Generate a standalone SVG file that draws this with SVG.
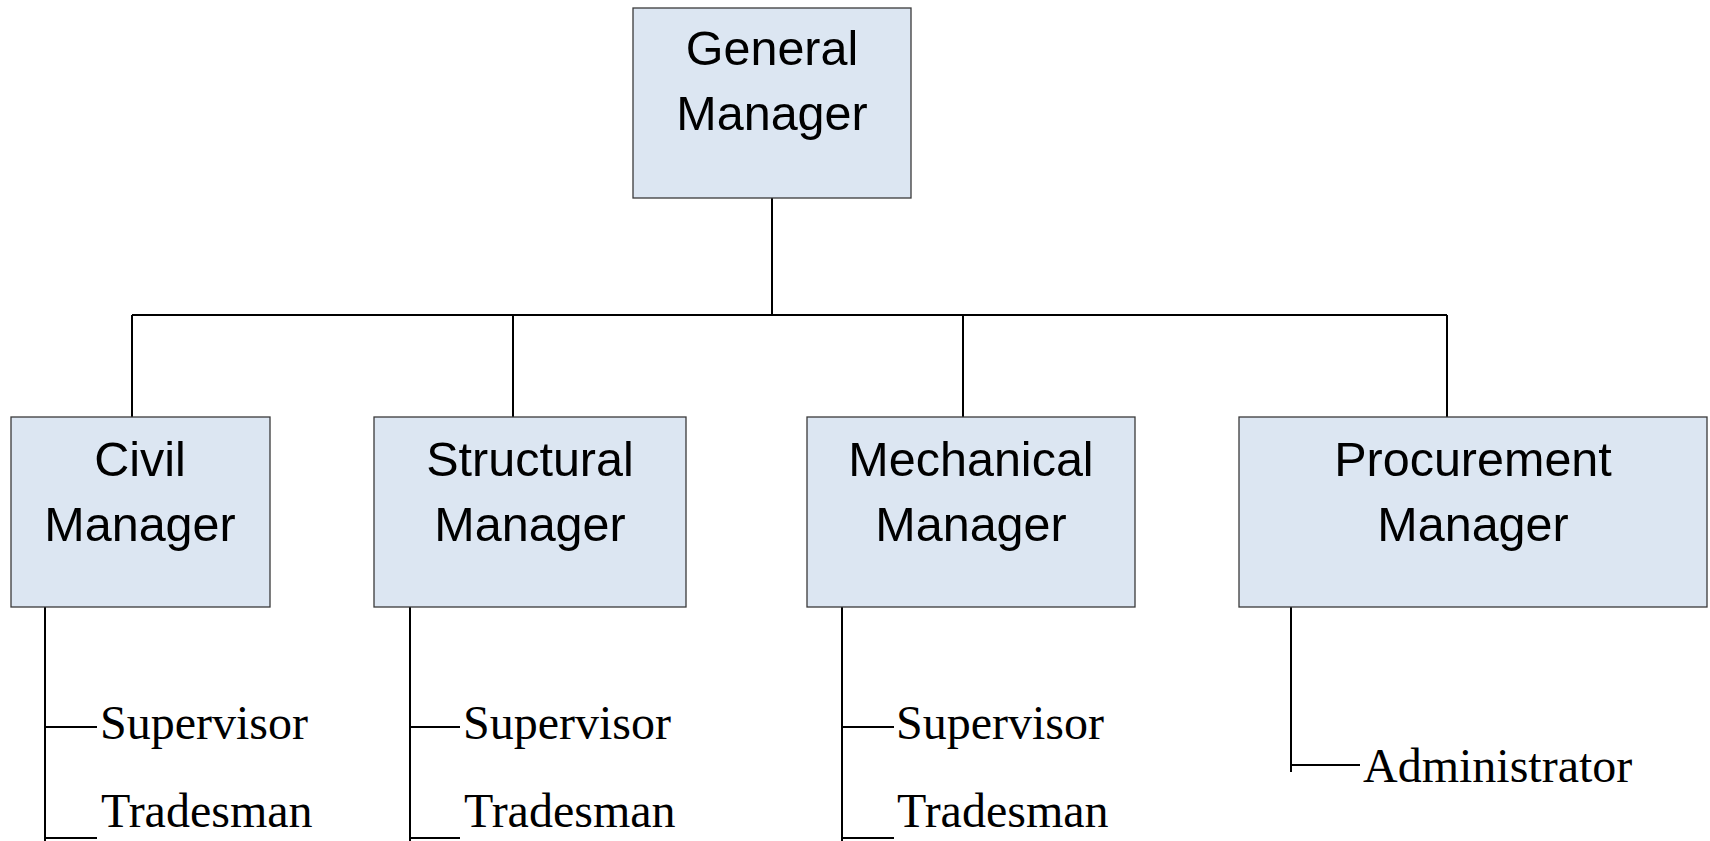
<svg xmlns="http://www.w3.org/2000/svg" width="1710" height="841" viewBox="0 0 1710 841">
<style>
.box{fill:#dce6f2;stroke:#3a3a3a;stroke-width:1.3}
.bt{font-family:"Liberation Sans",Arial,sans-serif;font-size:48.5px;fill:#000;text-anchor:middle}
.st{font-family:"Liberation Serif","Times New Roman",serif;font-size:48px;fill:#000}
.ln{stroke:#000;stroke-width:2;fill:none}
</style>
<rect width="1710" height="841" fill="#fff"/>
<g id="connectors">
<path class="ln" d="M772 198V315M132 315H1447M132 315V417M513 315V417M963 315V417M1447 315V417"/>
<path class="ln" d="M45 602V841M45 727H97M45 838H97"/>
<path class="ln" d="M410 602V841M410 727H460M410 838H460"/>
<path class="ln" d="M842 602V841M842 727H894M842 838H894"/>
<path class="ln" d="M1291 602V772M1291 765H1360"/>
</g>
<g id="general-manager">
<rect class="box" x="633" y="8" width="278" height="190"/>
<text class="bt" x="772" y="65">General</text>
<text class="bt" x="772" y="130">Manager</text>
</g>
<g id="civil-manager">
<rect class="box" x="11" y="417" width="259" height="190"/>
<text class="bt" x="140" y="476">Civil</text>
<text class="bt" x="140" y="541">Manager</text>
</g>
<g id="structural-manager">
<rect class="box" x="374" y="417" width="312" height="190"/>
<text class="bt" x="530" y="476">Structural</text>
<text class="bt" x="530" y="541">Manager</text>
</g>
<g id="mechanical-manager">
<rect class="box" x="807" y="417" width="328" height="190"/>
<text class="bt" x="971" y="476">Mechanical</text>
<text class="bt" x="971" y="541">Manager</text>
</g>
<g id="procurement-manager">
<rect class="box" x="1239" y="417" width="468" height="190"/>
<text class="bt" x="1473" y="476">Procurement</text>
<text class="bt" x="1473" y="541">Manager</text>
</g>
<g id="civil-supervisor"><text class="st" x="100" y="739">Supervisor</text></g>
<g id="civil-tradesman"><text class="st" x="101" y="827">Tradesman</text></g>
<g id="structural-supervisor"><text class="st" x="463" y="739">Supervisor</text></g>
<g id="structural-tradesman"><text class="st" x="464" y="827">Tradesman</text></g>
<g id="mechanical-supervisor"><text class="st" x="896" y="739">Supervisor</text></g>
<g id="mechanical-tradesman"><text class="st" x="897" y="827">Tradesman</text></g>
<g id="administrator"><text class="st" x="1363" y="782">Administrator</text></g>
</svg>
